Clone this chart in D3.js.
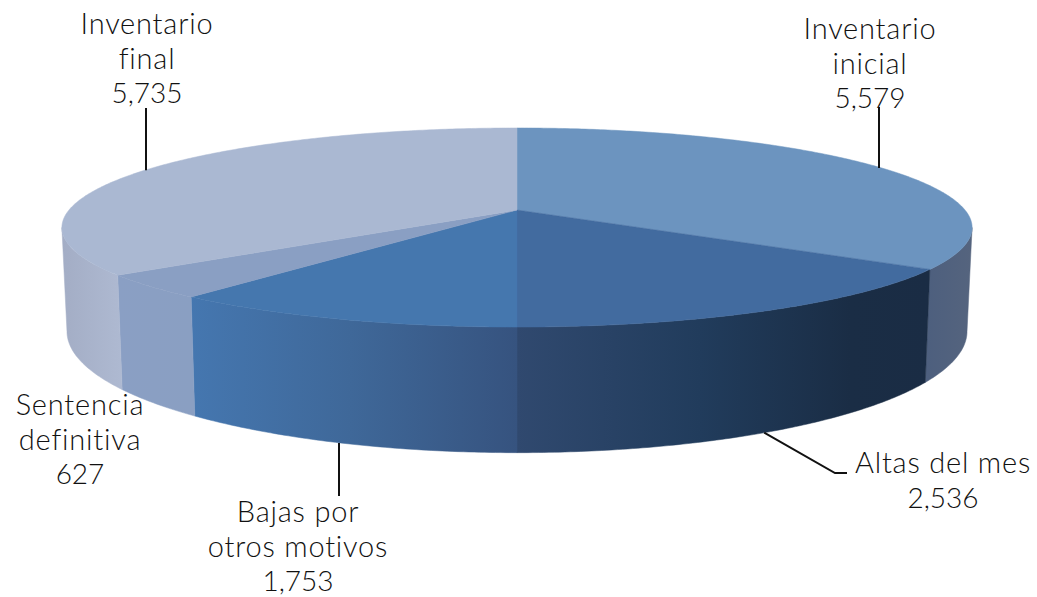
<!DOCTYPE html>
<html>
<head>
<meta charset="utf-8">
<script src="https://cdn.jsdelivr.net/npm/d3@7"></script>
<style>
    html, body { margin: 0; padding: 0; background: #fff; }
    svg { display: block; }
    text { font-family: Lato, "Open Sans", sans-serif; font-size: 29px; font-weight: 300; fill: #111; text-anchor: middle; letter-spacing: 0.8px; }
    text.value { letter-spacing: 0; font-size: 28px; }
</style>
</head>
<body>
<div class="chart_frame"></div>
<script>
var categories = ['Inventario inicial', 'Altas del mes', 'Bajas por otros motivos', 'Sentencia definitiva', 'Inventario final'];
var values = [5579, 2536, 1753, 627, 5735];
var value_labels = ['5,579', '2,536', '1,753', '627', '5,735'];

var width = 1037, height = 597;

// top and bottom rims of the disc, seen in perspective
var persp = 0.176,
    top_rim = {'a': -59.5, 'b': 210, 'rx': 448, 'cx': 517},
    bottom_rim = {'a': -63, 'b': 310, 'rx': 443, 'cx': 517};

// face colour and wall gradient stops [x, colour] of each slice
var face_colors = ['#6c94bf', '#426b9f', '#4577ae', '#8a9fc3', '#aab8d2'];
var wall_stops = [
    [[926, '#4d5f7e'], [972, '#55647e']],
    [[517, '#30496f'], [700, '#213c5c'], [850, '#1a2d45'], [930, '#1a2c44']],
    [[189, '#4577b0'], [350, '#3f6899'], [517, '#36537f']],
    [[116, '#8a9fc4'], [192, '#8a9fc2']],
    [[62, '#a3adc5'], [120, '#aeb9d1']]
];

// label lines: centre x, first baseline; leader ends where given
var label_layout = [
    {'lines': ['Inventario', 'inicial'], 'x': 870, 'y': 39, 'leader': {'rim': top_rim, 'to': [879, 107]}},
    {'lines': ['Altas del mes'], 'x': 943, 'y': 473, 'leader': {'rim': bottom_rim, 'to': [835, 473], 'end': [847, 473], 'slant': true}},
    {'lines': ['Bajas por', 'otros motivos'], 'x': 298, 'y': 522, 'leader': {'rim': bottom_rim, 'to': [339, 496]}},
    {'lines': ['Sentencia', 'definitiva'], 'x': 80, 'y': 415},
    {'lines': ['Inventario', 'final'], 'x': 147, 'y': 34, 'leader': {'rim': top_rim, 'to': [146, 108]}}
];
var line_height = 34.5;

function project(rim, angle) {
    var u = Math.sin(angle), v = Math.cos(angle), w = persp * v + 1;
    return [rim.cx + rim.rx * u / w, (rim.a * v + rim.b) / w];
}

function arc_points(rim, a0, a1) {
    var n = Math.max(2, Math.ceil((a1 - a0) / 0.01)), pts = [];
    for (var i = 0; i <= n; i++) {
        pts.push(project(rim, a0 + (a1 - a0) * i / n));
    }
    return pts;
}

var slices = d3.pie().sort(null).value(function(d) { return d; })(values);
var line = d3.line();

var svg = d3.select('.chart_frame').append('svg')
    .attr('width', width)
    .attr('height', height);

var defs = svg.append('defs');
wall_stops.forEach(function(stops, i) {
    var grad = defs.append('linearGradient')
        .attr('id', 'wall_' + i)
        .attr('gradientUnits', 'userSpaceOnUse')
        .attr('x1', stops[0][0]).attr('x2', stops[stops.length - 1][0])
        .attr('y1', 0).attr('y2', 0);
    var offset = d3.scaleLinear().domain([stops[0][0], stops[stops.length - 1][0]]).range([0, 1]);
    stops.forEach(function(s) {
        grad.append('stop').attr('offset', offset(s[0])).attr('stop-color', s[1]);
    });
});

// walls first, only the part facing the viewer (rim is widest at cos = -persp)
var wall_from = Math.acos(-persp), wall_to = Math.PI * 2 - wall_from;
var walls = svg.append('g').attr('class', 'walls');
slices.forEach(function(s, i) {
    var a0 = Math.max(s.startAngle, wall_from), a1 = Math.min(s.endAngle, wall_to);
    if (a1 <= a0) return;
    var pts = arc_points(top_rim, a0, a1).concat(arc_points(bottom_rim, a0, a1).reverse());
    walls.append('path')
        .attr('d', line(pts) + 'Z')
        .attr('fill', 'url(#wall_' + i + ')')
        .attr('stroke', 'url(#wall_' + i + ')')
        .attr('stroke-width', 0.5);
});

// top faces
var faces = svg.append('g').attr('class', 'faces');
slices.forEach(function(s, i) {
    var centre = [top_rim.cx, top_rim.b];
    var pts = [centre].concat(arc_points(top_rim, s.startAngle, s.endAngle));
    faces.append('path')
        .attr('d', line(pts) + 'Z')
        .attr('fill', face_colors[i])
        .attr('stroke', face_colors[i])
        .attr('stroke-width', 0.5);
});

// leaders and labels
var labels = svg.append('g').attr('class', 'labels');
slices.forEach(function(s, i) {
    var layout = label_layout[i], leader = layout.leader;
    if (leader) {
        var start = project(leader.rim, (s.startAngle + s.endAngle) / 2);
        if (!leader.slant) start[0] = leader.to[0];
        var pts = [start, leader.to];
        if (leader.end) pts.push(leader.end);
        labels.append('path')
            .attr('d', line(pts))
            .attr('fill', 'none')
            .attr('stroke', '#111')
            .attr('stroke-width', 2);
    }
    layout.lines.forEach(function(txt, j) {
        labels.append('text')
            .attr('x', layout.x)
            .attr('y', layout.y + j * line_height)
            .text(txt);
    });
    labels.append('text')
        .attr('class', 'value')
        .attr('x', layout.x)
        .attr('y', layout.y + layout.lines.length * line_height)
        .text(value_labels[i]);
});
</script>
</body>
</html>
